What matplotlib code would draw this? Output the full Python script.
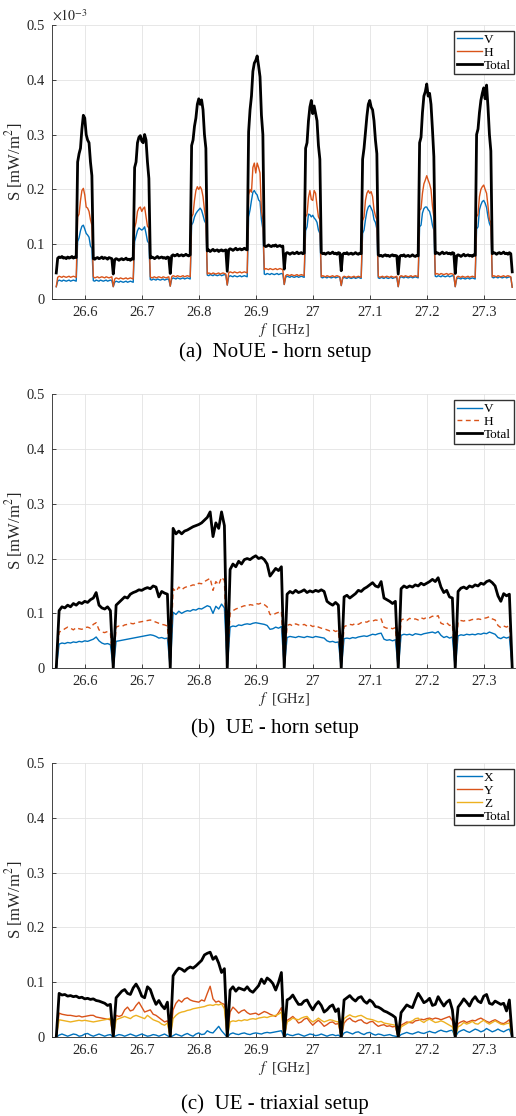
import numpy as np
import matplotlib
matplotlib.use('Agg')
import matplotlib.pyplot as plt
from matplotlib.ticker import FuncFormatter

# measurement grids: 8 sub-bands of 100 MHz between 26.55 and 27.35 GHz
F_START, F_STOP = 26.55, 27.35
STEP_A = 0.0025   # horn sweep without UE was logged on a finer grid
STEP_BC = 0.005
freq_a = np.round(np.arange(F_START, F_STOP + STEP_A / 2, STEP_A), 4)
freq_bc = np.round(np.arange(F_START, F_STOP + STEP_BC / 2, STEP_BC), 4)

# (a) NoUE, horn antenna, values in 1e-3 mW/m^2
noue_v = [
    0.023, 0.033, 0.035, 0.034, 0.033, 0.035, 0.034, 0.033, 0.034, 0.035, 0.033, 0.034, 0.035, 0.034, 0.033,
    0.105, 0.112, 0.125, 0.133, 0.135, 0.128, 0.120, 0.117, 0.113, 0.097, 0.093,
    0.034, 0.033, 0.035, 0.034, 0.033, 0.035, 0.034, 0.033, 0.034, 0.035, 0.033, 0.034, 0.035, 0.034,
    0.023, 0.031, 0.033, 0.032, 0.031, 0.033, 0.032, 0.031, 0.032, 0.033, 0.031, 0.032, 0.033, 0.032, 0.031,
    0.105, 0.115, 0.125, 0.130, 0.128, 0.126, 0.128, 0.132, 0.120, 0.106, 0.102,
    0.036, 0.035, 0.037, 0.036, 0.035, 0.037, 0.036, 0.035, 0.036, 0.037, 0.035, 0.036, 0.037, 0.036,
    0.024, 0.037, 0.039, 0.038, 0.037, 0.039, 0.038, 0.037, 0.038, 0.039, 0.037, 0.038, 0.039, 0.038, 0.037,
    0.135, 0.140, 0.150, 0.156, 0.160, 0.163, 0.166, 0.162, 0.153, 0.143, 0.138,
    0.044, 0.043, 0.045, 0.044, 0.043, 0.045, 0.044, 0.043, 0.044, 0.045, 0.043, 0.044, 0.045, 0.044,
    0.026, 0.041, 0.043, 0.042, 0.041, 0.043, 0.042, 0.041, 0.042, 0.043, 0.041, 0.042, 0.043, 0.042, 0.041,
    0.150, 0.163, 0.180, 0.195, 0.198, 0.193, 0.190, 0.181, 0.178, 0.145, 0.128,
    0.046, 0.045, 0.047, 0.046, 0.045, 0.047, 0.046, 0.045, 0.046, 0.047, 0.045, 0.046, 0.047, 0.046,
    0.027, 0.040, 0.042, 0.041, 0.040, 0.042, 0.041, 0.040, 0.041, 0.042, 0.040, 0.041, 0.042, 0.041, 0.040,
    0.125, 0.132, 0.155, 0.154, 0.150, 0.153, 0.148, 0.145, 0.140, 0.126, 0.120,
    0.040, 0.039, 0.041, 0.040, 0.039, 0.041, 0.040, 0.039, 0.040, 0.041, 0.039, 0.040, 0.041, 0.040,
    0.025, 0.038, 0.040, 0.039, 0.038, 0.040, 0.039, 0.038, 0.039, 0.040, 0.038, 0.039, 0.040, 0.039, 0.038,
    0.120, 0.126, 0.145, 0.160, 0.168, 0.171, 0.166, 0.160, 0.145, 0.140, 0.128,
    0.039, 0.038, 0.040, 0.039, 0.038, 0.040, 0.039, 0.038, 0.039, 0.040, 0.038, 0.039, 0.040, 0.039,
    0.023, 0.039, 0.041, 0.040, 0.039, 0.041, 0.040, 0.039, 0.040, 0.041, 0.039, 0.040, 0.041, 0.040, 0.039,
    0.132, 0.135, 0.157, 0.165, 0.168, 0.168, 0.163, 0.160, 0.150, 0.135, 0.126,
    0.042, 0.041, 0.043, 0.042, 0.041, 0.043, 0.042, 0.041, 0.042, 0.043, 0.041, 0.042, 0.043, 0.042,
    0.023, 0.037, 0.039, 0.038, 0.037, 0.039, 0.038, 0.037, 0.038, 0.039, 0.037, 0.038, 0.039, 0.038, 0.037,
    0.128, 0.132, 0.163, 0.172, 0.178, 0.180, 0.175, 0.167, 0.150, 0.138, 0.132,
    0.040, 0.039, 0.041, 0.040, 0.039, 0.041, 0.040, 0.039, 0.040, 0.041, 0.039, 0.040, 0.041, 0.040,
    0.022]
noue_h = [
    0.023, 0.040, 0.042, 0.041, 0.040, 0.042, 0.041, 0.040, 0.041, 0.042, 0.040, 0.041, 0.042, 0.041, 0.040,
    0.150, 0.155, 0.180, 0.198, 0.202, 0.190, 0.168, 0.166, 0.160, 0.145, 0.135,
    0.041, 0.039, 0.040, 0.041, 0.039, 0.040, 0.041, 0.040, 0.039, 0.041, 0.040, 0.039, 0.040, 0.041,
    0.023, 0.037, 0.039, 0.038, 0.037, 0.039, 0.038, 0.037, 0.038, 0.039, 0.037, 0.038, 0.039, 0.038, 0.037,
    0.130, 0.140, 0.160, 0.166, 0.168, 0.160, 0.165, 0.168, 0.150, 0.133, 0.130,
    0.041, 0.039, 0.040, 0.041, 0.039, 0.040, 0.041, 0.040, 0.039, 0.041, 0.040, 0.039, 0.040, 0.041,
    0.024, 0.041, 0.043, 0.042, 0.041, 0.043, 0.042, 0.041, 0.042, 0.043, 0.041, 0.042, 0.043, 0.042, 0.041,
    0.150, 0.155, 0.180, 0.198, 0.205, 0.200, 0.205, 0.200, 0.187, 0.163, 0.145,
    0.046, 0.048, 0.047, 0.046, 0.048, 0.047, 0.046, 0.047, 0.048, 0.046, 0.047, 0.048, 0.047, 0.046,
    0.026, 0.048, 0.050, 0.049, 0.048, 0.050, 0.049, 0.048, 0.049, 0.050, 0.048, 0.049, 0.050, 0.049, 0.048,
    0.190, 0.200, 0.195, 0.240, 0.248, 0.230, 0.248, 0.240, 0.230, 0.160, 0.145,
    0.054, 0.056, 0.055, 0.054, 0.056, 0.055, 0.054, 0.055, 0.056, 0.054, 0.055, 0.056, 0.055, 0.054,
    0.027, 0.043, 0.045, 0.044, 0.043, 0.045, 0.044, 0.043, 0.044, 0.045, 0.043, 0.044, 0.045, 0.044, 0.043,
    0.150, 0.155, 0.185, 0.198, 0.182, 0.180, 0.198, 0.193, 0.170, 0.150, 0.145,
    0.041, 0.043, 0.042, 0.041, 0.043, 0.042, 0.041, 0.042, 0.043, 0.041, 0.042, 0.043, 0.042, 0.041,
    0.025, 0.040, 0.042, 0.041, 0.040, 0.042, 0.041, 0.040, 0.041, 0.042, 0.040, 0.041, 0.042, 0.041, 0.040,
    0.143, 0.150, 0.180, 0.193, 0.198, 0.193, 0.196, 0.187, 0.163, 0.152, 0.145,
    0.042, 0.040, 0.041, 0.042, 0.040, 0.041, 0.042, 0.041, 0.040, 0.042, 0.041, 0.040, 0.041, 0.042,
    0.023, 0.041, 0.043, 0.042, 0.041, 0.043, 0.042, 0.041, 0.042, 0.043, 0.041, 0.042, 0.043, 0.042, 0.041,
    0.162, 0.165, 0.193, 0.210, 0.217, 0.225, 0.217, 0.210, 0.200, 0.170, 0.150,
    0.045, 0.047, 0.046, 0.045, 0.047, 0.046, 0.045, 0.046, 0.047, 0.045, 0.046, 0.047, 0.046, 0.045,
    0.023, 0.040, 0.042, 0.041, 0.040, 0.042, 0.041, 0.040, 0.041, 0.042, 0.040, 0.041, 0.042, 0.041, 0.040,
    0.150, 0.155, 0.187, 0.200, 0.205, 0.208, 0.200, 0.193, 0.170, 0.145, 0.140,
    0.041, 0.043, 0.042, 0.041, 0.043, 0.042, 0.041, 0.042, 0.043, 0.041, 0.042, 0.043, 0.042, 0.041,
    0.022]
noue_total = [
    0.048, 0.075, 0.077, 0.076, 0.078, 0.075, 0.076, 0.074, 0.077, 0.075, 0.076, 0.078, 0.075, 0.077, 0.076,
    0.250, 0.265, 0.275, 0.310, 0.335, 0.330, 0.300, 0.290, 0.285, 0.250, 0.225,
    0.074, 0.073, 0.075, 0.076, 0.074, 0.075, 0.077, 0.074, 0.076, 0.075, 0.073, 0.076, 0.075, 0.074,
    0.046, 0.072, 0.074, 0.073, 0.071, 0.073, 0.074, 0.072, 0.073, 0.075, 0.072, 0.073, 0.071, 0.074, 0.073,
    0.240, 0.250, 0.285, 0.295, 0.298, 0.288, 0.285, 0.300, 0.290, 0.250, 0.220,
    0.075, 0.077, 0.076, 0.074, 0.076, 0.078, 0.075, 0.076, 0.077, 0.075, 0.076, 0.074, 0.077, 0.076,
    0.047, 0.079, 0.081, 0.079, 0.080, 0.082, 0.079, 0.080, 0.081, 0.079, 0.080, 0.082, 0.080, 0.079, 0.081,
    0.280, 0.290, 0.315, 0.330, 0.355, 0.365, 0.355, 0.363, 0.345, 0.300, 0.275,
    0.088, 0.090, 0.087, 0.089, 0.091, 0.088, 0.089, 0.090, 0.087, 0.089, 0.090, 0.088, 0.089, 0.090,
    0.051, 0.090, 0.092, 0.091, 0.089, 0.091, 0.093, 0.090, 0.091, 0.092, 0.090, 0.091, 0.093, 0.091, 0.090,
    0.305, 0.345, 0.370, 0.415, 0.430, 0.435, 0.443, 0.425, 0.405, 0.335, 0.300,
    0.098, 0.096, 0.097, 0.099, 0.097, 0.096, 0.098, 0.097, 0.099, 0.096, 0.097, 0.098, 0.096, 0.097,
    0.055, 0.083, 0.085, 0.084, 0.082, 0.084, 0.085, 0.083, 0.084, 0.086, 0.083, 0.084, 0.085, 0.083, 0.084,
    0.275, 0.285, 0.325, 0.350, 0.362, 0.338, 0.352, 0.338, 0.325, 0.280, 0.255,
    0.085, 0.083, 0.084, 0.082, 0.084, 0.085, 0.083, 0.084, 0.086, 0.083, 0.084, 0.082, 0.085, 0.084,
    0.052, 0.082, 0.084, 0.083, 0.085, 0.082, 0.083, 0.084, 0.082, 0.083, 0.085, 0.083, 0.082, 0.084, 0.083,
    0.255, 0.275, 0.305, 0.333, 0.355, 0.362, 0.350, 0.345, 0.325, 0.290, 0.265,
    0.081, 0.079, 0.080, 0.078, 0.080, 0.081, 0.079, 0.080, 0.078, 0.080, 0.081, 0.079, 0.080, 0.079,
    0.046, 0.078, 0.080, 0.079, 0.081, 0.078, 0.079, 0.080, 0.078, 0.079, 0.081, 0.079, 0.078, 0.080, 0.079,
    0.285, 0.295, 0.340, 0.370, 0.378, 0.392, 0.370, 0.375, 0.355, 0.310, 0.260,
    0.083, 0.085, 0.084, 0.082, 0.084, 0.086, 0.083, 0.084, 0.085, 0.083, 0.084, 0.082, 0.085, 0.084,
    0.047, 0.079, 0.081, 0.080, 0.078, 0.080, 0.082, 0.079, 0.080, 0.081, 0.079, 0.080, 0.078, 0.081, 0.080,
    0.300, 0.310, 0.340, 0.362, 0.375, 0.385, 0.365, 0.390, 0.350, 0.300, 0.270,
    0.083, 0.085, 0.084, 0.082, 0.084, 0.085, 0.083, 0.084, 0.086, 0.083, 0.084, 0.082, 0.085, 0.083,
    0.050]

# (b) UE, horn antenna, mW/m^2
ue_v = [
    0.0, 0.044, 0.046, 0.045, 0.047, 0.046, 0.048, 0.047, 0.049, 0.048, 0.050, 0.049, 0.051, 0.053, 0.057, 0.050, 0.046, 0.044, 0.045, 0.043,
    0.0, 0.049, 0.050, 0.051, 0.052, 0.053, 0.054, 0.055, 0.056, 0.057, 0.058, 0.059, 0.060, 0.061, 0.060, 0.058, 0.055, 0.056, 0.054, 0.055,
    0.0, 0.102, 0.098, 0.104, 0.100, 0.103, 0.105, 0.104, 0.107, 0.106, 0.109, 0.108, 0.111, 0.114, 0.112, 0.100, 0.113, 0.108, 0.117, 0.110,
    0.0, 0.075, 0.077, 0.076, 0.079, 0.078, 0.080, 0.081, 0.080, 0.082, 0.083, 0.082, 0.081, 0.080, 0.078, 0.071, 0.072, 0.075, 0.073, 0.076,
    0.0, 0.056, 0.058, 0.057, 0.056, 0.058, 0.057, 0.056, 0.058, 0.057, 0.056, 0.058, 0.057, 0.056, 0.055, 0.050, 0.048, 0.049, 0.047, 0.048,
    0.0, 0.054, 0.055, 0.054, 0.056, 0.055, 0.057, 0.058, 0.059, 0.058, 0.060, 0.062, 0.061, 0.063, 0.064, 0.053, 0.051, 0.052, 0.050, 0.052,
    0.0, 0.060, 0.062, 0.061, 0.062, 0.060, 0.063, 0.062, 0.061, 0.063, 0.064, 0.065, 0.066, 0.064, 0.067, 0.060, 0.056, 0.058, 0.055, 0.057,
    0.0, 0.059, 0.061, 0.060, 0.062, 0.061, 0.062, 0.061, 0.063, 0.062, 0.064, 0.063, 0.066, 0.064, 0.062, 0.056, 0.054, 0.057, 0.055, 0.057,
    0.0]
ue_h = [
    0.0, 0.066, 0.068, 0.072, 0.075, 0.073, 0.070, 0.074, 0.072, 0.071, 0.074, 0.075, 0.073, 0.080, 0.083, 0.070, 0.066, 0.065, 0.067, 0.064,
    0.0, 0.075, 0.077, 0.076, 0.079, 0.080, 0.082, 0.081, 0.083, 0.084, 0.085, 0.086, 0.087, 0.088, 0.086, 0.084, 0.082, 0.080, 0.079, 0.077,
    0.0, 0.145, 0.140, 0.148, 0.143, 0.147, 0.149, 0.150, 0.152, 0.151, 0.155, 0.154, 0.158, 0.161, 0.164, 0.142, 0.158, 0.152, 0.166, 0.160,
    0.0, 0.100, 0.105, 0.108, 0.110, 0.112, 0.114, 0.113, 0.116, 0.115, 0.118, 0.117, 0.119, 0.116, 0.112, 0.098, 0.097, 0.100, 0.102, 0.104,
    0.0, 0.078, 0.080, 0.077, 0.081, 0.079, 0.078, 0.080, 0.077, 0.079, 0.076, 0.078, 0.075, 0.073, 0.072, 0.070, 0.068, 0.070, 0.067, 0.069,
    0.0, 0.076, 0.078, 0.080, 0.079, 0.082, 0.080, 0.083, 0.085, 0.084, 0.087, 0.086, 0.088, 0.087, 0.090, 0.075, 0.073, 0.074, 0.072, 0.074,
    0.0, 0.088, 0.090, 0.087, 0.091, 0.089, 0.090, 0.088, 0.092, 0.090, 0.093, 0.092, 0.095, 0.093, 0.096, 0.082, 0.080, 0.083, 0.078, 0.080,
    0.0, 0.085, 0.087, 0.086, 0.088, 0.087, 0.089, 0.088, 0.090, 0.089, 0.091, 0.092, 0.094, 0.090, 0.088, 0.078, 0.074, 0.077, 0.075, 0.078,
    0.0]
ue_total = [
    0.0, 0.105, 0.112, 0.110, 0.115, 0.112, 0.118, 0.115, 0.120, 0.118, 0.122, 0.120, 0.125, 0.128, 0.138, 0.115, 0.110, 0.108, 0.112, 0.105,
    0.0, 0.115, 0.120, 0.125, 0.130, 0.128, 0.135, 0.138, 0.140, 0.143, 0.142, 0.145, 0.147, 0.145, 0.150, 0.148, 0.130, 0.140, 0.137, 0.135,
    0.0, 0.255, 0.245, 0.250, 0.245, 0.250, 0.252, 0.255, 0.258, 0.260, 0.262, 0.265, 0.270, 0.275, 0.285, 0.240, 0.265, 0.255, 0.285, 0.260,
    0.0, 0.180, 0.190, 0.185, 0.195, 0.190, 0.198, 0.200, 0.198, 0.202, 0.205, 0.200, 0.202, 0.198, 0.190, 0.168, 0.175, 0.182, 0.178, 0.185,
    0.0, 0.135, 0.140, 0.137, 0.142, 0.138, 0.140, 0.143, 0.138, 0.141, 0.139, 0.142, 0.140, 0.143, 0.140, 0.122, 0.118, 0.115, 0.120, 0.115,
    0.0, 0.130, 0.133, 0.128, 0.132, 0.136, 0.142, 0.140, 0.145, 0.148, 0.152, 0.156, 0.150, 0.148, 0.158, 0.128, 0.125, 0.122, 0.118, 0.122,
    0.0, 0.145, 0.150, 0.147, 0.150, 0.148, 0.152, 0.150, 0.155, 0.152, 0.155, 0.158, 0.162, 0.158, 0.165, 0.148, 0.138, 0.142, 0.130, 0.128,
    0.0, 0.140, 0.146, 0.148, 0.145, 0.150, 0.148, 0.152, 0.150, 0.155, 0.153, 0.158, 0.160, 0.156, 0.150, 0.132, 0.122, 0.136, 0.132, 0.135,
    0.0]

# (c) UE, triaxial probe, mW/m^2
tri_x = [
    0.0, 0.004, 0.006, 0.004, 0.002, 0.004, 0.006, 0.005, 0.002, 0.003, 0.006, 0.007, 0.004, 0.002, 0.004, 0.006, 0.004, 0.002, 0.004, 0.005,
    0.0, 0.003, 0.005, 0.004, 0.002, 0.004, 0.006, 0.004, 0.002, 0.004, 0.006, 0.004, 0.002, 0.003, 0.005, 0.004, 0.002, 0.004, 0.006, 0.003,
    0.0, 0.003, 0.006, 0.004, 0.002, 0.005, 0.007, 0.004, 0.002, 0.006, 0.008, 0.005, 0.006, 0.012, 0.009, 0.008, 0.014, 0.020, 0.012, 0.006,
    0.0, 0.006, 0.008, 0.006, 0.005, 0.007, 0.008, 0.006, 0.005, 0.007, 0.008, 0.007, 0.006, 0.008, 0.009, 0.008, 0.009, 0.010, 0.011, 0.012,
    0.0, 0.006, 0.004, 0.003, 0.005, 0.006, 0.004, 0.002, 0.004, 0.006, 0.005, 0.003, 0.004, 0.006, 0.004, 0.002, 0.004, 0.005, 0.003, 0.004,
    0.0, 0.008, 0.010, 0.008, 0.006, 0.009, 0.010, 0.007, 0.005, 0.008, 0.009, 0.006, 0.004, 0.006, 0.005, 0.003, 0.004, 0.005, 0.003, 0.002,
    0.0, 0.005, 0.007, 0.009, 0.007, 0.006, 0.008, 0.010, 0.008, 0.007, 0.009, 0.011, 0.009, 0.008, 0.011, 0.013, 0.011, 0.010, 0.012, 0.013,
    0.0, 0.009, 0.012, 0.014, 0.011, 0.009, 0.012, 0.015, 0.013, 0.010, 0.012, 0.016, 0.013, 0.010, 0.012, 0.015, 0.012, 0.010, 0.013, 0.015,
    0.0]
tri_y = [
    0.0, 0.044, 0.042, 0.041, 0.040, 0.040, 0.039, 0.038, 0.039, 0.037, 0.038, 0.039, 0.040, 0.040, 0.037, 0.036, 0.035, 0.034, 0.033, 0.032,
    0.0, 0.040, 0.038, 0.040, 0.050, 0.055, 0.048, 0.050, 0.058, 0.064, 0.055, 0.046, 0.048, 0.050, 0.042, 0.040, 0.036, 0.032, 0.028, 0.030,
    0.0, 0.050, 0.062, 0.068, 0.064, 0.070, 0.072, 0.068, 0.066, 0.065, 0.064, 0.068, 0.066, 0.080, 0.093, 0.070, 0.064, 0.066, 0.062, 0.060,
    0.0, 0.046, 0.055, 0.050, 0.044, 0.048, 0.050, 0.045, 0.042, 0.043, 0.044, 0.041, 0.044, 0.047, 0.045, 0.042, 0.040, 0.038, 0.045, 0.054,
    0.0, 0.031, 0.034, 0.038, 0.033, 0.026, 0.028, 0.033, 0.035, 0.028, 0.022, 0.027, 0.031, 0.026, 0.020, 0.023, 0.027, 0.028, 0.024, 0.025,
    0.0, 0.026, 0.032, 0.035, 0.030, 0.028, 0.031, 0.032, 0.027, 0.025, 0.028, 0.029, 0.024, 0.020, 0.022, 0.023, 0.020, 0.021, 0.019, 0.020,
    0.0, 0.022, 0.025, 0.028, 0.027, 0.026, 0.030, 0.031, 0.033, 0.032, 0.034, 0.035, 0.033, 0.035, 0.034, 0.032, 0.034, 0.036, 0.038, 0.030,
    0.0, 0.025, 0.028, 0.030, 0.027, 0.029, 0.031, 0.030, 0.033, 0.035, 0.032, 0.029, 0.027, 0.030, 0.032, 0.029, 0.026, 0.025, 0.028, 0.032,
    0.0]
tri_z = [
    0.0, 0.032, 0.031, 0.030, 0.029, 0.028, 0.029, 0.030, 0.031, 0.030, 0.031, 0.030, 0.029, 0.028, 0.029, 0.030, 0.031, 0.032, 0.033, 0.035,
    0.0, 0.032, 0.034, 0.036, 0.038, 0.036, 0.034, 0.038, 0.040, 0.038, 0.036, 0.034, 0.040, 0.036, 0.032, 0.030, 0.028, 0.024, 0.022, 0.026,
    0.0, 0.034, 0.040, 0.044, 0.046, 0.047, 0.049, 0.050, 0.052, 0.053, 0.054, 0.055, 0.056, 0.058, 0.059, 0.058, 0.060, 0.059, 0.061, 0.052,
    0.0, 0.028, 0.030, 0.029, 0.031, 0.030, 0.032, 0.031, 0.033, 0.034, 0.033, 0.035, 0.036, 0.037, 0.036, 0.038, 0.039, 0.040, 0.042, 0.046,
    0.0, 0.028, 0.031, 0.035, 0.033, 0.032, 0.035, 0.037, 0.038, 0.032, 0.028, 0.031, 0.035, 0.031, 0.028, 0.030, 0.032, 0.031, 0.029, 0.028,
    0.0, 0.034, 0.038, 0.041, 0.038, 0.037, 0.039, 0.040, 0.037, 0.034, 0.033, 0.032, 0.030, 0.028, 0.029, 0.026, 0.025, 0.024, 0.023, 0.022,
    0.0, 0.019, 0.022, 0.025, 0.028, 0.030, 0.034, 0.035, 0.030, 0.027, 0.031, 0.033, 0.030, 0.027, 0.028, 0.030, 0.028, 0.025, 0.022, 0.019,
    0.0, 0.019, 0.022, 0.027, 0.024, 0.026, 0.029, 0.025, 0.024, 0.028, 0.031, 0.027, 0.024, 0.027, 0.030, 0.027, 0.024, 0.023, 0.025, 0.026,
    0.0]
tri_total = [
    0.0, 0.080, 0.077, 0.078, 0.075, 0.076, 0.074, 0.075, 0.072, 0.073, 0.070, 0.071, 0.069, 0.070, 0.067, 0.066, 0.064, 0.062, 0.058, 0.060,
    0.0, 0.072, 0.078, 0.084, 0.087, 0.080, 0.078, 0.090, 0.097, 0.088, 0.075, 0.072, 0.092, 0.087, 0.072, 0.060, 0.067, 0.058, 0.052, 0.064,
    0.0, 0.112, 0.120, 0.126, 0.124, 0.120, 0.125, 0.128, 0.126, 0.130, 0.135, 0.140, 0.150, 0.153, 0.155, 0.142, 0.147, 0.135, 0.118, 0.125,
    0.0, 0.086, 0.092, 0.084, 0.090, 0.088, 0.086, 0.092, 0.085, 0.082, 0.088, 0.094, 0.106, 0.098, 0.108, 0.104, 0.098, 0.086, 0.100, 0.118,
    0.0, 0.068, 0.071, 0.077, 0.068, 0.060, 0.060, 0.066, 0.068, 0.058, 0.050, 0.059, 0.065, 0.058, 0.046, 0.050, 0.056, 0.059, 0.047, 0.052,
    0.0, 0.068, 0.072, 0.076, 0.070, 0.066, 0.072, 0.074, 0.066, 0.062, 0.068, 0.064, 0.056, 0.055, 0.052, 0.048, 0.046, 0.043, 0.040, 0.036,
    0.0, 0.045, 0.052, 0.059, 0.056, 0.054, 0.068, 0.080, 0.072, 0.063, 0.066, 0.071, 0.058, 0.060, 0.074, 0.065, 0.057, 0.064, 0.068, 0.050,
    0.0, 0.055, 0.062, 0.070, 0.064, 0.057, 0.068, 0.074, 0.066, 0.063, 0.075, 0.078, 0.062, 0.060, 0.066, 0.063, 0.060, 0.062, 0.048, 0.068,
    0.0]

for s in (noue_v, noue_h, noue_total):
    assert len(s) == len(freq_a)
for s in (ue_v, ue_h, ue_total, tri_x, tri_y, tri_z, tri_total):
    assert len(s) == len(freq_bc)

xticks = [26.6, 26.7, 26.8, 26.9, 27.0, 27.1, 27.2, 27.3]
yticks = [0, 0.1, 0.2, 0.3, 0.4, 0.5]
captions = ['(a)  NoUE - horn setup', '(b)  UE - horn setup', '(c)  UE - triaxial setup']

BLUE, ORANGE, YELLOW = '#0072BD', '#D95319', '#EDB120'
AXCOL = '#262626'

plt.rcParams['font.family'] = ['Liberation Serif', 'DejaVu Serif']
plt.rcParams['mathtext.fontset'] = 'stix'


def setup_axes(ax):
    ax.set_xlim(26.542, 27.355)
    ax.set_ylim(0, 0.5)
    ax.set_xticks(xticks)
    ax.set_yticks(yticks)
    fmt = FuncFormatter(lambda v, p: f'{v:g}')
    ax.xaxis.set_major_formatter(fmt)
    ax.yaxis.set_major_formatter(fmt)
    ax.grid(True, color='#e3e3e3', linewidth=0.6)
    ax.set_axisbelow(True)
    for s in ['top', 'right']:
        ax.spines[s].set_visible(False)
    for s in ['left', 'bottom']:
        ax.spines[s].set_color(AXCOL)
        ax.spines[s].set_linewidth(0.6)
    ax.tick_params(direction='in', length=3, width=0.6, color=AXCOL,
                   labelcolor=AXCOL, labelsize=10.5, pad=5)
    ax.set_xlabel('$f$  [GHz]', fontsize=10.5, color=AXCOL, labelpad=1)
    ax.set_ylabel('S [mW/m$^2$]', fontsize=12, color=AXCOL, labelpad=1)


def add_legend(ax):
    ax.legend(loc='upper right', bbox_to_anchor=(0.997, 0.977), borderaxespad=0,
              fontsize=9.5, handlelength=1.9, handletextpad=0.15, borderpad=0.2,
              labelspacing=0.05, fancybox=False, framealpha=1,
              edgecolor='#333333')


fig = plt.figure(figsize=(5.16, 11.16), dpi=100)
ax_a = fig.add_axes([0.1002, 0.7318, 0.898, 0.2461])
ax_b = fig.add_axes([0.1002, 0.4012, 0.898, 0.2458])
ax_c = fig.add_axes([0.1002, 0.0705, 0.898, 0.2461])

ax_a.plot(freq_a, noue_v, color=BLUE, lw=1.0, label='V')
ax_a.plot(freq_a, noue_h, color=ORANGE, lw=1.0, label='H')
ax_a.plot(freq_a, noue_total, color='black', lw=2.0, label='Total')
ax_a.text(0.0, 1.005, r'$\times10^{-3}$', transform=ax_a.transAxes,
          fontsize=10, color=AXCOL, ha='left', va='bottom')

ax_b.plot(freq_bc, ue_v, color=BLUE, lw=1.0, label='V')
ax_b.plot(freq_bc, ue_h, color=ORANGE, lw=1.0, ls=(0, (3.5, 2.5)), label='H')
ax_b.plot(freq_bc, ue_total, color='black', lw=2.0, label='Total')

ax_c.plot(freq_bc, tri_x, color=BLUE, lw=1.0, label='X')
ax_c.plot(freq_bc, tri_y, color=ORANGE, lw=1.0, label='Y')
ax_c.plot(freq_bc, tri_z, color=YELLOW, lw=1.0, label='Z')
ax_c.plot(freq_bc, tri_total, color='black', lw=2.0, label='Total')

for ax in (ax_a, ax_b, ax_c):
    setup_axes(ax)
    add_legend(ax)

# sub-figure captions, centred under the plot area
for y, cap in zip([1 - 352 / 1116, 1 - 728 / 1116, 1 - 1104 / 1116], captions):
    fig.text(0.533, y, cap, ha='center', va='center', fontsize=15, color='black')

fig.savefig('out.png', dpi=100)
